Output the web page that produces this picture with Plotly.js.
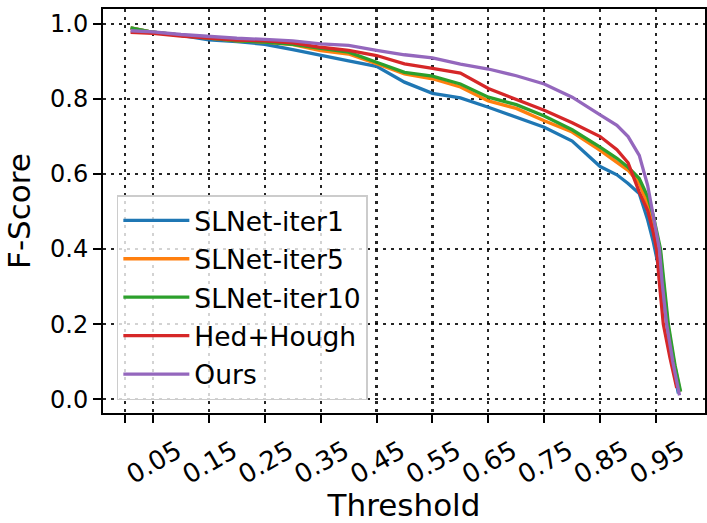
<!DOCTYPE html>
<html>
<head>
<meta charset="utf-8">
<script src="https://cdn.plot.ly/plotly-3.0.1.min.js"></script>
<style>html,body{margin:0;padding:0;background:#fff;}#chart{width:707px;height:523px;}</style>
</head>
<body>
<div id="chart"></div>
<script>
// ---- data ----
const seriesNames = ["SLNet-iter1", "SLNet-iter5", "SLNet-iter10", "Hed+Hough", "Ours"];
const seriesColors = ["#1f77b4", "#ff7f0e", "#2ca02c", "#d62728", "#9467bd"];

const xMain = [0.01, 0.05, 0.10, 0.15, 0.20, 0.25, 0.30, 0.35, 0.40, 0.45, 0.50, 0.55,
               0.60, 0.65, 0.70, 0.75, 0.80, 0.85, 0.88, 0.90, 0.92, 0.935];

const yIter1  = [0.990, 0.978, 0.970, 0.958, 0.953, 0.946, 0.932, 0.916, 0.902, 0.887, 0.845, 0.815,
                 0.803, 0.778, 0.752, 0.725, 0.688, 0.620, 0.598, 0.575, 0.548, 0.478];
const xTailIter1 = [0.945, 0.955, 0.962, 0.970, 0.980, 0.990];
const yTailIter1 = [0.420, 0.350, 0.280, 0.190, 0.090, 0.015];

const yIter5  = [0.990, 0.978, 0.970, 0.962, 0.955, 0.952, 0.945, 0.929, 0.920, 0.894, 0.867, 0.854,
                 0.832, 0.795, 0.775, 0.742, 0.712, 0.663, 0.630, 0.610, 0.575, 0.520];
const xTailIter5 = [0.945, 0.957, 0.964, 0.971, 0.982, 0.993];
const yTailIter5 = [0.470, 0.400, 0.300, 0.200, 0.100, 0.020];

const yIter10 = [0.990, 0.978, 0.970, 0.962, 0.955, 0.952, 0.946, 0.935, 0.925, 0.898, 0.871, 0.861,
                 0.840, 0.805, 0.785, 0.755, 0.718, 0.672, 0.642, 0.618, 0.588, 0.540];
const xTailIter10 = [0.945, 0.958, 0.965, 0.972, 0.984, 0.994];
const yTailIter10 = [0.490, 0.400, 0.300, 0.200, 0.090, 0.020];

const yHed    = [0.978, 0.975, 0.968, 0.962, 0.957, 0.955, 0.950, 0.938, 0.930, 0.916, 0.894, 0.882,
                 0.869, 0.828, 0.800, 0.770, 0.737, 0.700, 0.665, 0.630, 0.552, 0.503];
const xTailHed = [0.945, 0.951, 0.956, 0.963, 0.975, 0.987];
const yTailHed = [0.445, 0.400, 0.310, 0.200, 0.110, 0.030];

const yOurs   = [0.982, 0.979, 0.972, 0.966, 0.962, 0.959, 0.955, 0.947, 0.943, 0.930, 0.918, 0.910,
                 0.893, 0.880, 0.862, 0.840, 0.805, 0.758, 0.730, 0.700, 0.650, 0.570];
const xTailOurs = [0.945, 0.956, 0.961, 0.969, 0.980, 0.992];
const yTailOurs = [0.490, 0.400, 0.310, 0.200, 0.100, 0.010];

const xTickVals = [0.0, 0.05, 0.15, 0.25, 0.35, 0.45, 0.55, 0.65, 0.75, 0.85, 0.95];
const xTickText = ["", "0.05", "0.15", "0.25", "0.35", "0.45", "0.55", "0.65", "0.75", "0.85", "0.95"];
const yTickVals = [0.0, 0.2, 0.4, 0.6, 0.8, 1.0];
const yTickText = ["0.0", "0.2", "0.4", "0.6", "0.8", "1.0"];

// ---- build traces ----
const ySeries = [yIter1, yIter5, yIter10, yHed, yOurs];
const xTails = [xTailIter1, xTailIter5, xTailIter10, xTailHed, xTailOurs];
const yTails = [yTailIter1, yTailIter5, yTailIter10, yTailHed, yTailOurs];

const traces = seriesNames.map((name, i) => ({
  type: "scatter",
  mode: "lines",
  name: name,
  legendgroup: name,
  x: xMain.concat(xTails[i]),
  y: ySeries[i].concat(yTails[i]),
  line: {color: seriesColors[i], width: 3.3}
}));

const font = {family: "DejaVu Sans, sans-serif", color: "#000"};
const gridCommon = {
  showgrid: true,
  gridcolor: "rgba(0,0,0,0.85)",
  gridwidth: 2.2,
  griddash: "2.5px,5.5px",
  zeroline: false,
  showline: true,
  mirror: true,
  linecolor: "#000",
  linewidth: 2,
  ticks: "outside",
  ticklen: 8,
  tickwidth: 2,
  tickcolor: "#000"
};

const layout = {
  width: 707,
  height: 523,
  margin: {l: 103, r: 2, t: 9, b: 110},
  paper_bgcolor: "#fff",
  plot_bgcolor: "#fff",
  font: font,
  showlegend: true,
  xaxis: Object.assign({}, gridCommon, {
    range: [-0.0394, 1.0376],
    tickmode: "array",
    tickvals: xTickVals,
    ticktext: xTickText,
    tickangle: -30,
    ticklabelshift: 24,
    ticklabelstandoff: 3,
    tickfont: {family: font.family, size: 26, color: "#000"},
    title: {text: "Threshold", font: {family: font.family, size: 31, color: "#000"}},
    automargin: false
  }),
  yaxis: Object.assign({}, gridCommon, {
    range: [-0.037, 1.040],
    tickmode: "array",
    tickvals: yTickVals,
    ticktext: yTickText,
    tickfont: {family: font.family, size: 24, color: "#000"},
    title: {text: "F-Score", font: {family: font.family, size: 31, color: "#000"}},
    automargin: false
  }),
  legend: {
    x: 0.023, y: 0.032,
    xanchor: "left", yanchor: "bottom",
    bgcolor: "rgba(255,255,255,0.8)",
    bordercolor: "#cccccc",
    borderwidth: 1.5,
    font: {family: font.family, size: 26.5, color: "#000"},
    itemwidth: 66,
    tracegroupgap: 1
  }
};

Plotly.newPlot("chart", traces, layout, {staticPlot: true, displayModeBar: false});
</script>
</body>
</html>
